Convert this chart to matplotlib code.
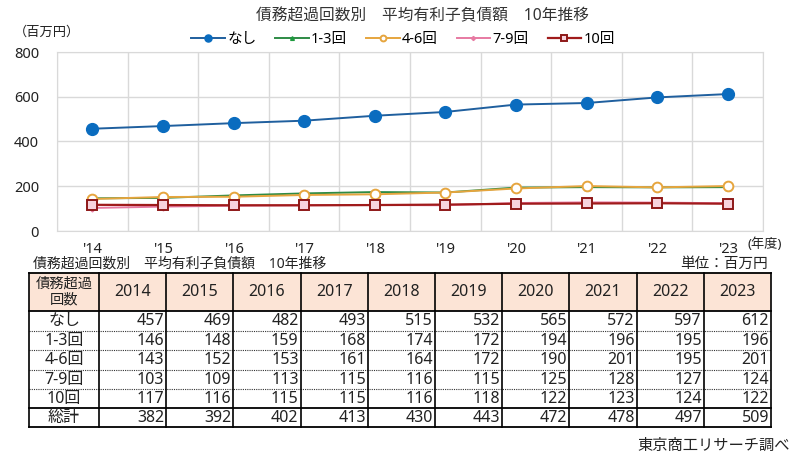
import numpy as np
import matplotlib
matplotlib.use('Agg')
from matplotlib import pyplot as plt

plt.rcParams['font.family'] = ['Noto Sans', 'Noto Sans CJK JP', 'DejaVu Sans']

# data
years = [2014, 2015, 2016, 2017, 2018, 2019, 2020, 2021, 2022, 2023]
year_labels = ["'14", "'15", "'16", "'17", "'18", "'19", "'20", "'21", "'22", "'23"]
series_names = ['なし', '1-3回', '4-6回', '7-9回', '10回']
nashi = [457, 469, 482, 493, 515, 532, 565, 572, 597, 612]
r1_3 = [146, 148, 159, 168, 174, 172, 194, 196, 195, 196]
r4_6 = [143, 152, 153, 161, 164, 172, 190, 201, 195, 201]
r7_9 = [103, 109, 113, 115, 116, 115, 125, 128, 127, 124]
r10 = [117, 116, 115, 115, 116, 118, 122, 123, 124, 122]
total = [382, 392, 402, 413, 430, 443, 472, 478, 497, 509]

title = '債務超過回数別\u3000平均有利子負債額\u300010年推移'

W, H = 800, 465
fig = plt.figure(figsize=(W / 100, H / 100), dpi=100)
fig.patch.set_facecolor('white')

def fx(px):
    return px / W

def fy(py):
    return 1 - py / H

# ---- chart ----
ax = fig.add_axes([fx(57), fy(231), fx(763 - 57), (231 - 52) / H])
x = np.arange(len(years))
styles = [
    dict(color='#1f5f9e', marker='o', ms=8.5, mfc='#0a6cbf', mec='#0a6cbf', lw=1.4),
    dict(color='#2e8b45', marker='^', ms=4.5, mfc='#1e9a3e', mec='#1e9a3e', lw=1.4),
    dict(color='#e6a53e', marker='o', ms=7, mfc='white', mec='#e6a53e', mew=1.4, lw=1.4),
    dict(color='#e77aa2', marker='D', ms=3.5, mfc='#e77aa2', mec='#e77aa2', lw=1.4),
    dict(color='#a01b1b', marker='s', ms=7, mfc='#f7d3dd', mec='#8e1818', mew=1.4, lw=1.6),
]
for vals, name, st in zip([nashi, r1_3, r4_6, r7_9, r10], series_names, styles):
    ax.plot(x, vals, label=name, **st)

ax.set_xlim(-0.5, len(years) - 0.5)
ax.set_ylim(0, 800)
ax.set_yticks([0, 200, 400, 600, 800])
ax.set_xticks(x)
ax.set_xticklabels(year_labels)
ax.set_xticks(np.arange(-0.5, len(years), 1), minor=True)
ax.grid(True, which='minor', axis='x', color='#d9d9d9', lw=1)
ax.grid(True, which='major', axis='y', color='#d9d9d9', lw=1)
ax.set_axisbelow(True)
ax.tick_params(axis='both', which='both', length=0, labelsize=10.5, colors='#222222')
ax.tick_params(axis='y', pad=13)
ax.tick_params(axis='x', pad=8)
for s in ax.spines.values():
    s.set_color('#d9d9d9')

fig.text(fx(422), fy(16), title, ha='center', va='center', fontsize=11.3, color='#333333')
fig.text(fx(14), fy(32), '（百万円）', ha='left', va='center', fontsize=9.5, color='#222222')
fig.text(fx(748), fy(244), '(年度)', ha='left', va='center', fontsize=9.5, color='#222222')

leg = fig.legend(loc='center', bbox_to_anchor=(fx(403), fy(40)), ncol=5, frameon=False,
                 fontsize=10.5, handlelength=2.3, columnspacing=1.3, handletextpad=0.15,
                 markerscale=0.6, borderaxespad=0)

# ---- table ----
tx = fig.add_axes([0, 0, 1, 1])
tx.set_xlim(0, W)
tx.set_ylim(H, 0)
tx.axis('off')

col_edges = [29, 99] + [99 + 67.2 * (i + 1) for i in range(len(years))]
row_edges = [273, 311, 331, 350, 370, 389, 408, 427]
rows = [nashi, r1_3, r4_6, r7_9, r10, total]
row_names = series_names + ['総計']

tx.add_patch(plt.Rectangle((col_edges[0], row_edges[0]), col_edges[-1] - col_edges[0],
                           row_edges[1] - row_edges[0], facecolor='#fce4d6', edgecolor='none'))

# horizontal lines
for i, yv in enumerate(row_edges):
    if i in (0, 1, 6, 7):
        tx.plot([col_edges[0], col_edges[-1]], [yv, yv], color='black', lw=1.3)
    else:
        tx.plot([col_edges[0], col_edges[-1]], [yv, yv], color='#333333', lw=0.8, ls=(0, (1, 1)))
# vertical lines
for xv in col_edges:
    tx.plot([xv, xv], [row_edges[0], row_edges[-1]], color='black', lw=1.2)

tfs = 11.5
tx.text((col_edges[0] + col_edges[1]) / 2, (row_edges[0] + row_edges[1]) / 2, '債務超過\n回数',
        ha='center', va='center', fontsize=10.3, linespacing=1.05, color='#222222')
for j, yr in enumerate(years):
    tx.text((col_edges[j + 1] + col_edges[j + 2]) / 2, (row_edges[0] + row_edges[1]) / 2,
            str(yr), ha='center', va='center', fontsize=tfs, color='#222222')
for i, (name, vals) in enumerate(zip(row_names, rows)):
    yc = (row_edges[i + 1] + row_edges[i + 2]) / 2
    tx.text((col_edges[0] + col_edges[1]) / 2, yc, name, ha='center', va='center',
            fontsize=11.5, color='#222222')
    for j, v in enumerate(vals):
        tx.text(col_edges[j + 2] - 2, yc, str(v), ha='right', va='center',
                fontsize=tfs, color='#222222')

tx.text(33, 264, title, ha='left', va='center', fontsize=10, color='#222222')
tx.text(768, 264, '単位：百万円', ha='right', va='center', fontsize=10.5, color='#222222')
tx.text(790, 446, '東京商工リサーチ調べ', ha='right', va='center', fontsize=11, color='#222222')

fig.savefig('out.png', dpi=100, facecolor='white')
